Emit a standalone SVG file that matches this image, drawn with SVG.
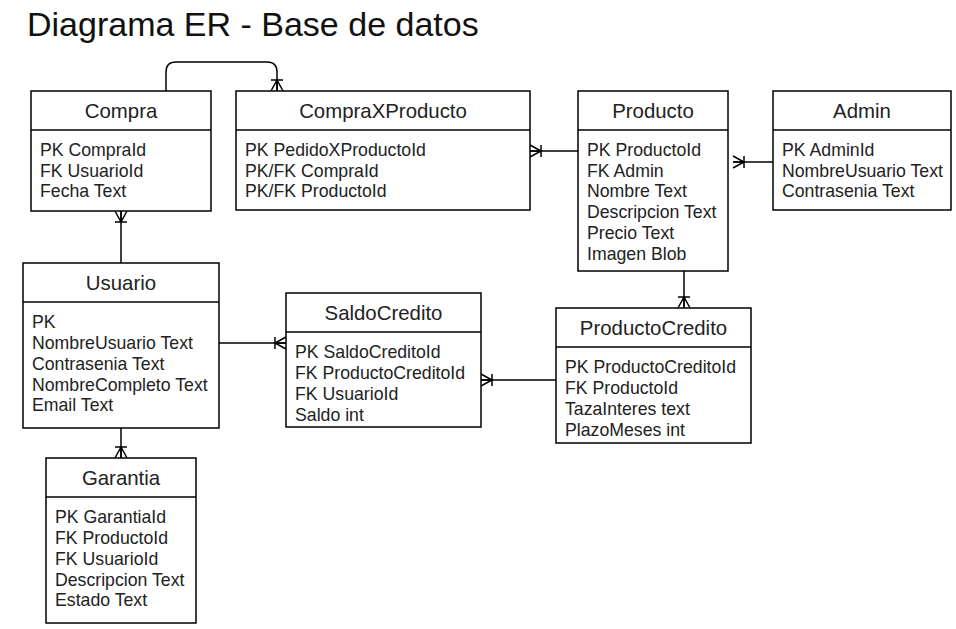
<svg xmlns="http://www.w3.org/2000/svg" width="956" height="629" viewBox="0 0 956 629">
<style>
.box{fill:#fff;stroke:#000;stroke-width:1.5}
.sep{stroke:#000;stroke-width:1.5}
.h{font-family:"Liberation Sans",Arial,sans-serif;font-size:20.4px;fill:#222;text-anchor:middle}
.b{font-family:"Liberation Sans",Arial,sans-serif;font-size:17.7px;fill:#222}
.title{font-family:"Liberation Sans",Arial,sans-serif;font-size:34px;fill:#111}
.c{fill:none;stroke:#000;stroke-width:1.5}
</style>
<defs>
<marker id="crow" markerUnits="userSpaceOnUse" viewBox="-15 -15 30 30" markerWidth="30" markerHeight="30" refX="0" refY="0" orient="auto" overflow="visible">
<path d="M0,-6 L-11,0 L0,6 M-11,-6 L-11,6 M-11,0 L0,0" fill="none" stroke="#000" stroke-width="1.5"/>
</marker>
</defs>
<rect width="956" height="629" fill="#fff"/>
<text class="title" x="27" y="36">Diagrama ER - Base de datos</text>

<g id="connectors">
<path class="c" d="M166,91 L166,72 Q166,62 176,62 L267,62 Q277,62 277,72 L277,91" marker-end="url(#crow)"/>
<path class="c" d="M121,263 L121,211" marker-end="url(#crow)"/>
<path class="c" d="M578,151 L530,151" marker-end="url(#crow)"/>
<path class="c" d="M773,162 L733,162" marker-end="url(#crow)"/>
<path class="c" d="M219,343 L286,343" marker-end="url(#crow)"/>
<path class="c" d="M556,380 L481,380" marker-end="url(#crow)"/>
<path class="c" d="M684,271 L684,308" marker-end="url(#crow)"/>
<path class="c" d="M121,428 L121,458" marker-end="url(#crow)"/>
</g>

<g id="compra">
<rect class="box" x="31" y="91" width="180" height="120"/>
<line class="sep" x1="31" y1="130" x2="211" y2="130"/>
<text class="h" x="121" y="118">Compra</text>
<text class="b" x="40" y="156">PK CompraId</text>
<text class="b" x="40" y="177">FK UsuarioId</text>
<text class="b" x="40" y="197">Fecha Text</text>
</g>

<g id="compraxproducto">
<rect class="box" x="236" y="91" width="294" height="119"/>
<line class="sep" x1="236" y1="130" x2="530" y2="130"/>
<text class="h" x="383" y="118">CompraXProducto</text>
<text class="b" x="245" y="156">PK PedidoXProductoId</text>
<text class="b" x="245" y="177">PK/FK CompraId</text>
<text class="b" x="245" y="197">PK/FK ProductoId</text>
</g>

<g id="producto">
<rect class="box" x="578" y="91" width="150" height="180"/>
<line class="sep" x1="578" y1="130" x2="728" y2="130"/>
<text class="h" x="653" y="118">Producto</text>
<text class="b" x="587" y="156">PK ProductoId</text>
<text class="b" x="587" y="177">FK Admin</text>
<text class="b" x="587" y="197">Nombre Text</text>
<text class="b" x="587" y="218">Descripcion Text</text>
<text class="b" x="587" y="239">Precio Text</text>
<text class="b" x="587" y="260">Imagen Blob</text>
</g>

<g id="admin">
<rect class="box" x="773" y="91" width="178" height="119"/>
<line class="sep" x1="773" y1="130" x2="951" y2="130"/>
<text class="h" x="862" y="118">Admin</text>
<text class="b" x="782" y="156">PK AdminId</text>
<text class="b" x="782" y="177">NombreUsuario Text</text>
<text class="b" x="782" y="197">Contrasenia Text</text>
</g>

<g id="usuario">
<rect class="box" x="23" y="263" width="196" height="165"/>
<line class="sep" x1="23" y1="302" x2="219" y2="302"/>
<text class="h" x="121" y="290">Usuario</text>
<text class="b" x="32" y="328">PK</text>
<text class="b" x="32" y="349">NombreUsuario Text</text>
<text class="b" x="32" y="370">Contrasenia Text</text>
<text class="b" x="32" y="391">NombreCompleto Text</text>
<text class="b" x="32" y="411">Email Text</text>
</g>

<g id="saldocredito">
<rect class="box" x="286" y="293" width="195" height="134"/>
<line class="sep" x1="286" y1="332" x2="481" y2="332"/>
<text class="h" x="383.5" y="320">SaldoCredito</text>
<text class="b" x="295" y="358">PK SaldoCreditoId</text>
<text class="b" x="295" y="379">FK ProductoCreditoId</text>
<text class="b" x="295" y="400">FK UsuarioId</text>
<text class="b" x="295" y="421">Saldo int</text>
</g>

<g id="productocredito">
<rect class="box" x="556" y="308" width="195" height="135"/>
<line class="sep" x1="556" y1="347" x2="751" y2="347"/>
<text class="h" x="653.5" y="335">ProductoCredito</text>
<text class="b" x="565" y="373">PK ProductoCreditoId</text>
<text class="b" x="565" y="394">FK ProductoId</text>
<text class="b" x="565" y="415">TazaInteres text</text>
<text class="b" x="565" y="436">PlazoMeses int</text>
</g>

<g id="garantia">
<rect class="box" x="46" y="458" width="150" height="165"/>
<line class="sep" x1="46" y1="497" x2="196" y2="497"/>
<text class="h" x="121" y="485">Garantia</text>
<text class="b" x="55" y="523">PK GarantiaId</text>
<text class="b" x="55" y="544">FK ProductoId</text>
<text class="b" x="55" y="565">FK UsuarioId</text>
<text class="b" x="55" y="586">Descripcion Text</text>
<text class="b" x="55" y="606">Estado Text</text>
</g>
</svg>
